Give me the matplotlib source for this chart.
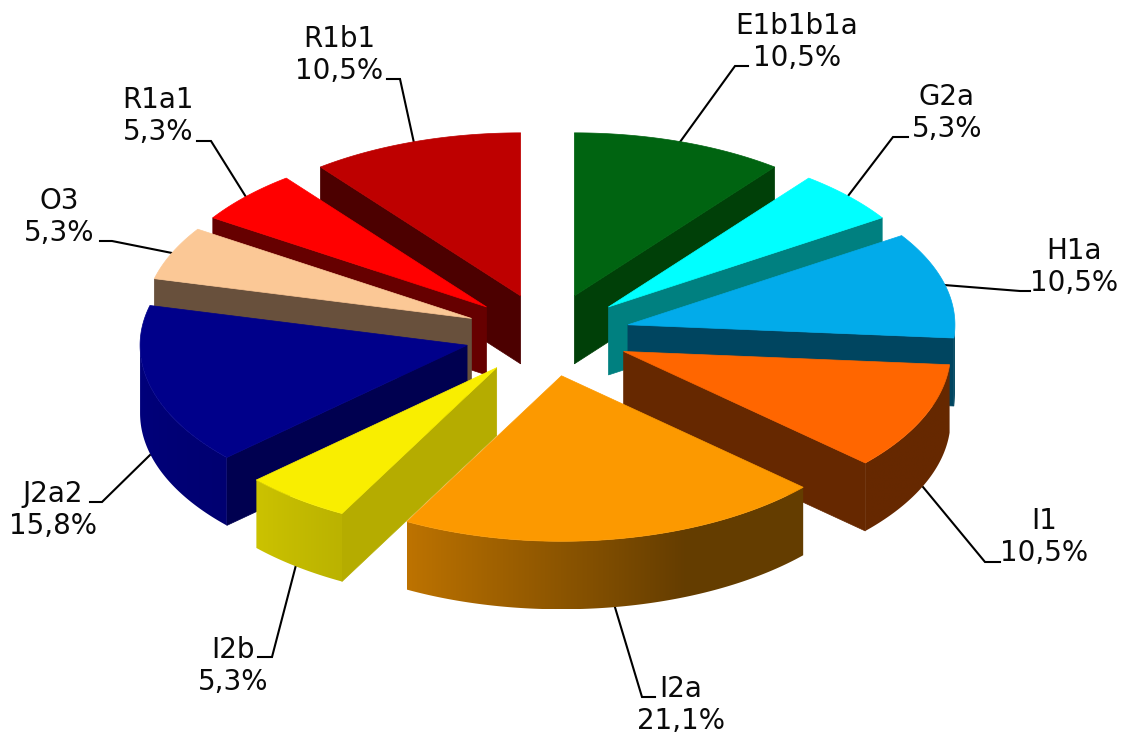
import numpy as np
import matplotlib
matplotlib.use("Agg")
import matplotlib.pyplot as plt
from matplotlib.patches import Polygon

# clockwise from 12 o'clock
labels = ["E1b1b1a", "G2a", "H1a", "I1", "I2a", "I2b", "J2a2", "O3", "R1a1", "R1b1"]
values = [10.5, 5.3, 10.5, 10.5, 21.1, 5.3, 15.8, 5.3, 5.3, 10.5]

top_colors = ["#006411", "#00FFFF", "#02ABEA", "#FF6600", "#FC9900",
              "#F9EE00", "#00008A", "#FBC896", "#FF0000", "#BE0000"]
wall_colors = ["#004008", "#008080", "#004560", "#662800", "#663C00",
               "#B5AC00", "#000050", "#68503C", "#660000", "#4C0000"]

# pie geometry, in pixels
CX, CY = 547.5, 335
RX = 327
RY_BACK, RY_FRONT = 163, 165.5
EXPLODE = 83
DEPTH = 68

# leader polyline and label centre, in pixels
leader_paths = [
    [(680, 142), (735, 66), (748, 66)],
    [(848, 196), (893, 137), (908, 137)],
    [(944, 285), (1020, 291), (1030, 291)],
    [(923, 487), (985, 562), (1000, 562)],
    [(614, 604), (642, 697), (655, 697)],
    [(296, 565), (272, 657), (258, 657)],
    [(150, 455), (102, 502), (90, 502)],
    [(172, 253), (112, 241), (100, 241)],
    [(246, 197), (211, 141), (197, 141)],
    [(414, 143), (400, 79), (387, 79)],
]
label_centres = [(797, 42), (947, 113), (1074, 267), (1044, 537), (681, 705),
                 (233, 666), (53, 510), (59, 217), (158, 116), (339, 55)]


def rim(x0, y0, deg):
    rad = np.radians(deg)
    ry = np.where(np.cos(rad) > 0, RY_BACK, RY_FRONT)
    return x0 + RX * np.sin(rad), y0 - ry * np.cos(rad)


def side_shade(deg):
    # the outer wall gets lighter going round to the left
    return np.interp(deg, [90, 158, 208, 228, 270], [0.4, 0.4, 0.75, 0.82, 0.9])


def draw_slice(ax, i, start, stop, z):
    mid = np.radians((start + stop) / 2)
    x0 = CX + EXPLODE * np.sin(mid)
    y0 = CY - EXPLODE * RY_BACK / RX * np.cos(mid)

    # radial walls that face the viewer
    for deg, visible in ((start, start >= 180), (stop, stop < 180)):
        if visible:
            xr, yr = rim(x0, y0, deg)
            ax.add_patch(Polygon([(x0, y0), (xr, yr), (xr, yr + DEPTH), (x0, y0 + DEPTH)],
                                 fc=wall_colors[i], ec=wall_colors[i], lw=0.5, zorder=z))

    # outer wall: horizontal gradient clipped to the wall outline
    lo, hi = max(start, 90), min(stop, 270)
    if lo < hi:
        arc = np.linspace(lo, hi, 200)
        xs, ys = rim(x0, y0, arc)
        outline = list(zip(xs, ys)) + list(zip(xs[::-1], ys[::-1] + DEPTH))
        clip = Polygon(outline, fc="none", ec="none", transform=ax.transData)
        ax.add_patch(clip)
        order = np.argsort(xs)
        left, right = xs.min(), xs.max()
        cols = np.linspace(left, right, 300)
        degs = np.interp(cols, xs[order], arc[order])
        base = np.array(matplotlib.colors.to_rgb(top_colors[i]))
        img = (base[None, :] * side_shade(degs)[:, None])[None, :, :]
        im = ax.imshow(img, extent=(left, right, ys.max() + DEPTH, ys.min()),
                       aspect="auto", interpolation="bilinear", zorder=z + 0.3)
        im.set_clip_path(clip)

    # top face
    arc = np.linspace(start, stop, 120)
    xs, ys = rim(x0, y0, arc)
    pts = [(x0, y0)] + list(zip(xs, ys))
    ax.add_patch(Polygon(pts, fc=top_colors[i], ec=top_colors[i], lw=0.5, zorder=z + 0.6))


matplotlib.rcParams["image.composite_image"] = False

fig = plt.figure(figsize=(11.22, 7.36), dpi=100)
ax = fig.add_axes([0, 0, 1, 1])
ax.axis("off")

for path in leader_paths:
    px, py = zip(*path)
    ax.plot(px, py, color="black", lw=1.5, solid_joinstyle="miter", zorder=1)

edges = np.cumsum([0] + values) / sum(values) * 360
mids = (edges[:-1] + edges[1:]) / 2

# back to front
for n, i in enumerate(np.argsort(-np.cos(np.radians(mids)))):
    draw_slice(ax, i, edges[i], edges[i + 1], 2 + n)

for name, val, (tx, ty) in zip(labels, values, label_centres):
    pct = f"{val:.1f}".replace(".", ",") + "%"
    ax.text(tx, ty, f"{name}\n{pct}", ha="center", va="center", fontsize=20,
            family="DejaVu Sans", linespacing=1.2, color="#0A0A0A", zorder=30)

ax.set_xlim(0, 1122)
ax.set_ylim(736, 0)
fig.savefig("out.png", dpi=100)
